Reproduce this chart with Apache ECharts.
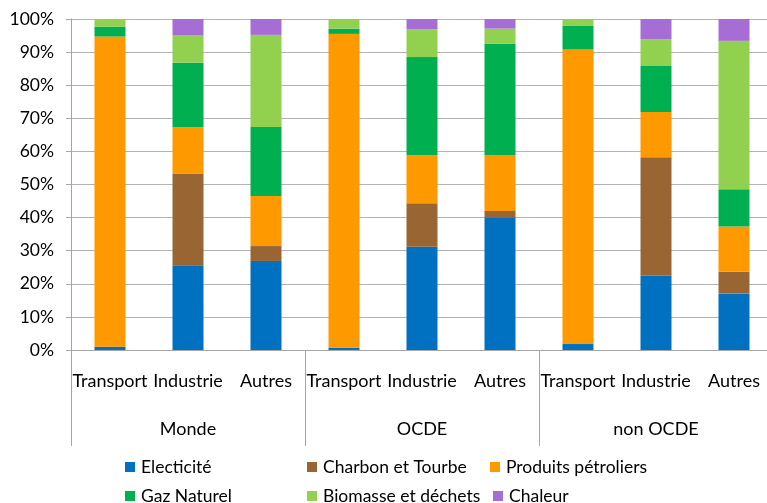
<!DOCTYPE html>
<html>
<head>
<meta charset="utf-8">
<script src="https://cdn.jsdelivr.net/npm/echarts@6/dist/echarts.min.js"></script>
<style>
  html, body { margin: 0; padding: 0; background: #fff; }
  #chart { width: 767px; height: 503px; }
</style>
</head>
<body>
<div id="chart"></div>
<script>
// catégories (secteurs) et groupes
const categories = ['Transport', 'Industrie', 'Autres', 'Transport', 'Industrie', 'Autres', 'Transport', 'Industrie', 'Autres'];
const groups = ['Monde', 'OCDE', 'non OCDE'];
const yTicks = [0, 10, 20, 30, 40, 50, 60, 70, 80, 90, 100];

// parts en % par source d'énergie
const electricite = [1.0, 25.6, 26.9, 0.7, 31.2, 40.1, 1.8, 22.4, 17.1];
const charbon     = [0, 27.7, 4.5, 0, 13.1, 1.9, 0, 35.8, 6.6];
const petrole     = [93.7, 14.0, 15.1, 94.8, 14.5, 16.9, 89.1, 13.7, 13.6];
const gaz         = [3.0, 19.5, 20.9, 1.6, 29.7, 33.6, 7.0, 13.9, 11.3];
const biomasse    = [2.3, 8.2, 27.8, 2.9, 8.4, 4.6, 2.1, 8.1, 44.8];
const chaleur     = [0, 5.0, 4.8, 0, 3.1, 2.9, 0, 6.1, 6.6];

const seriesNames = ['Electicité', 'Charbon et Tourbe', 'Produits pétroliers', 'Gaz Naturel', 'Biomasse et déchets', 'Chaleur'];
const seriesData = [electricite, charbon, petrole, gaz, biomasse, chaleur];
const colors = ['#0070C0', '#996633', '#FF9900', '#00B050', '#92D050', '#A66DD4'];

const font = 'Lato, "Noto Sans", sans-serif';

var chartDom = document.getElementById('chart');
var myChart = echarts.init(chartDom);

// légende en 2 lignes de 3 colonnes
const legendPos = [[125, 458], [307, 458], [490, 458], [125, 487], [307, 487], [493, 487]];
const legends = seriesNames.map(function (name, i) {
  return {
    data: [name],
    left: legendPos[i][0],
    top: legendPos[i][1],
    icon: 'rect',
    itemWidth: 10,
    itemHeight: 10,
    padding: 0,
    selectedMode: false,
    textStyle: { fontFamily: font, fontSize: 17.5, color: '#000', padding: [0, 0, 0, 1] }
  };
});

var option = {
  animation: false,
  color: colors,
  grid: { left: 71, width: 702, top: 19, bottom: 153, outerBoundsMode: 'none', containLabel: false },
  legend: legends,
  xAxis: [
    {
      type: 'category',
      data: categories,
      axisLine: { lineStyle: { color: '#a6a6a6' } },
      axisTick: { interval: 0, length: 50, lineStyle: { color: '#a6a6a6' } },
      axisLabel: { interval: 0, margin: 22, fontFamily: font, fontSize: 18, color: '#000' }
    },
    {
      type: 'category',
      data: groups,
      position: 'bottom',
      axisLine: { show: false },
      axisTick: { show: true, interval: 0, length: 96, lineStyle: { color: '#a6a6a6' } },
      axisLabel: { interval: 0, margin: 70, fontFamily: font, fontSize: 18, color: '#000' }
    }
  ],
  yAxis: {
    type: 'value',
    min: yTicks[0],
    max: yTicks[yTicks.length - 1],
    interval: 10,
    axisLine: { show: true, lineStyle: { color: '#a6a6a6' } },
    axisTick: { show: true, length: 5, lineStyle: { color: '#a6a6a6' } },
    splitLine: { lineStyle: { color: '#b3b3b3' } },
    axisLabel: { margin: 17, formatter: '{value}%', fontFamily: font, fontSize: 17.5, color: '#000' }
  },
  series: seriesNames.map(function (name, i) {
    return {
      name: name,
      type: 'bar',
      stack: 'total',
      barWidth: 31,
      xAxisIndex: 0,
      data: seriesData[i]
    };
  })
};

option && myChart.setOption(option);
</script>
</body>
</html>
